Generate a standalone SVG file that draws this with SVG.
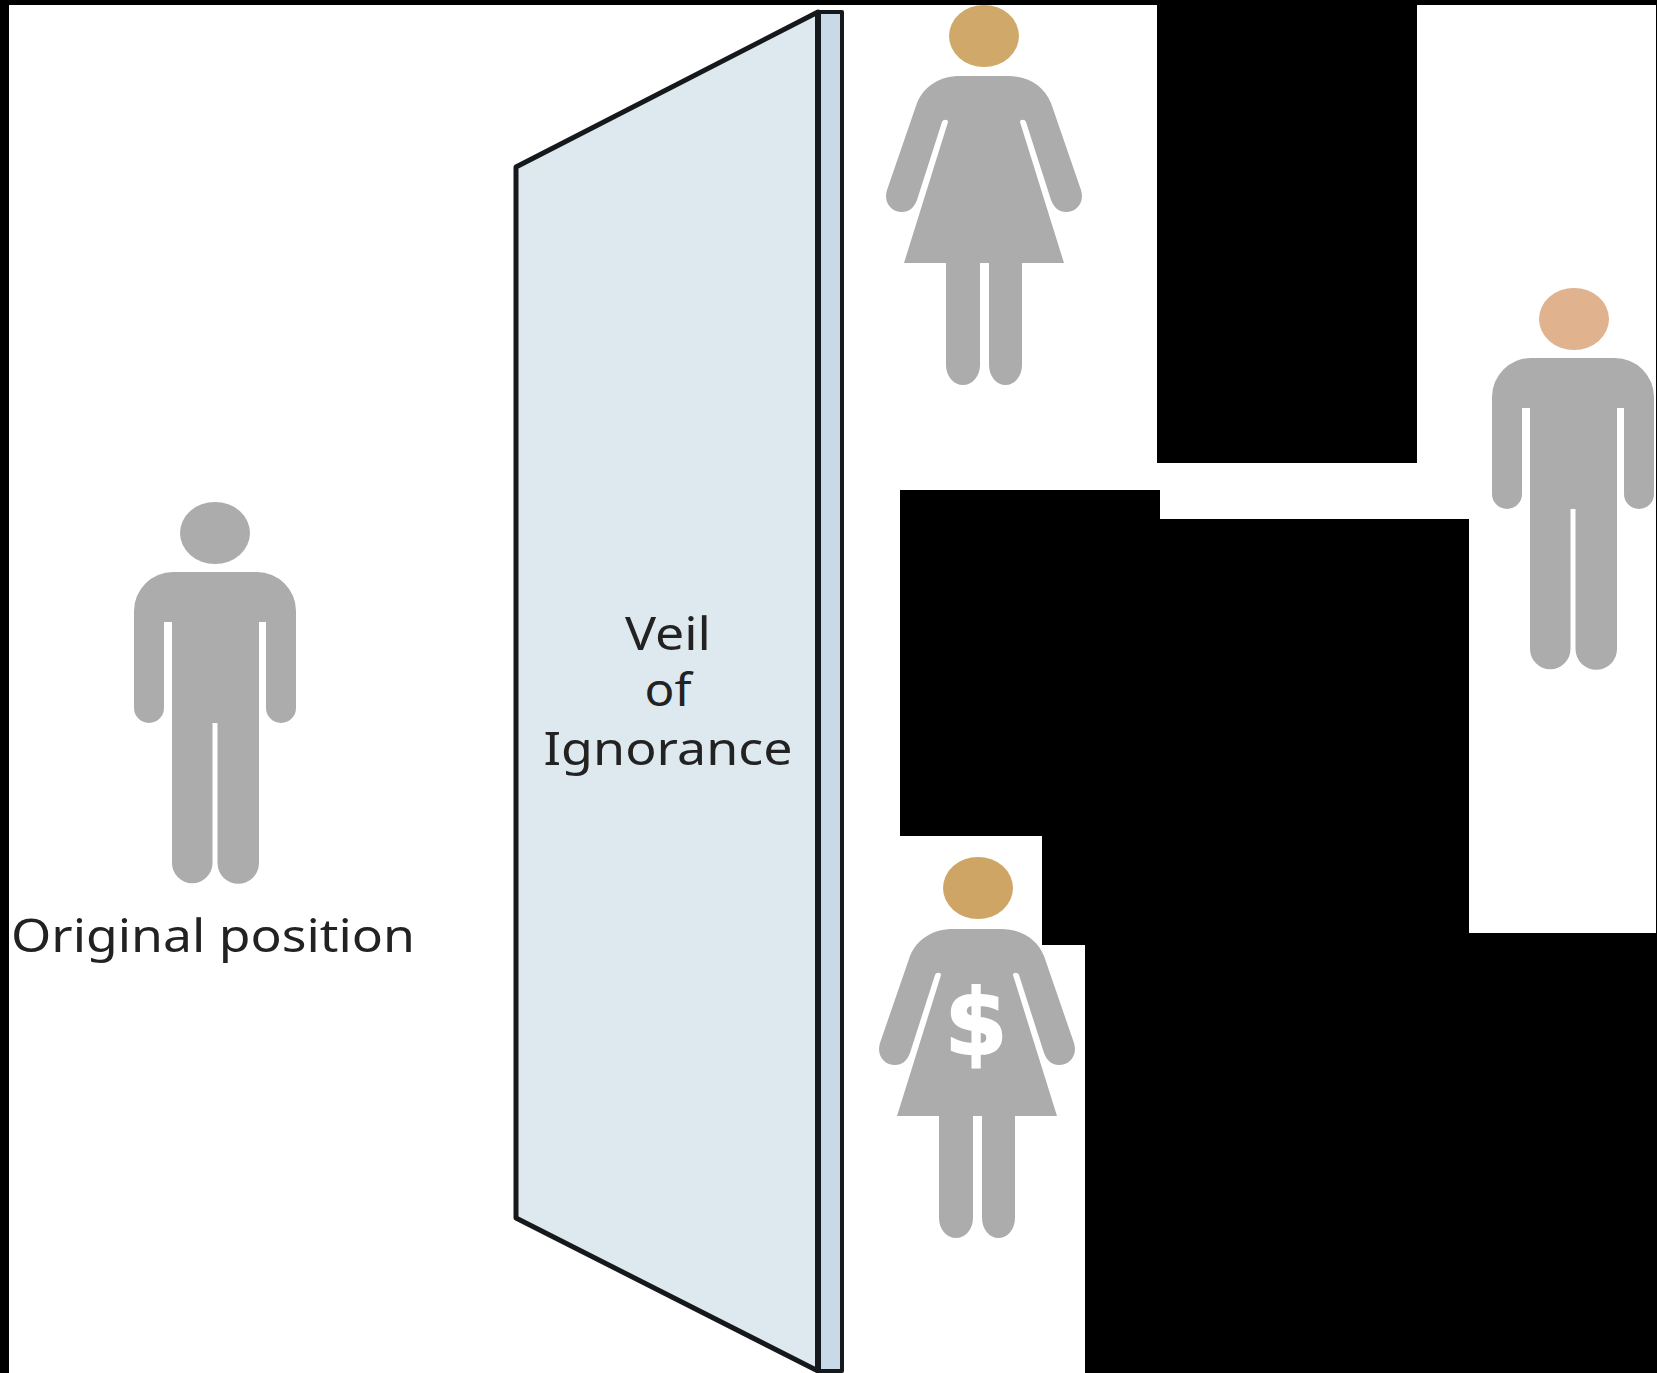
<svg xmlns="http://www.w3.org/2000/svg" width="1657" height="1373" viewBox="0 0 1657 1373">
<style>
.fig{fill:#acacac}
.lbl{font-family:"Noto Sans","DejaVu Sans",sans-serif;font-size:46px;fill:#222}
.edge{stroke:#16191c;fill:none;stroke-linejoin:round}
.mask{fill:#000}
</style>
<defs>
<path id="man" d="M172 572H257A39 39 0 0 1 296 611V708A15 15 0 0 1 266 708V622H259V863A20.750 20.750 0 0 1 217.500 863V723H212.500V863A20.250 20.250 0 0 1 172 863V622H164V708A15 15 0 0 1 134 708V611A39 39 0 0 1 173 572Z"/>
<path id="woman" d="M960 76H1008C1028 76 1044 86 1051 103L1081 190C1085 203 1076 212 1066 212C1059 212 1054 208 1051 200L1026 122C1025 119 1020 119 1020 122L1064 263H1022V365A16.500 20 0 0 1 989 365V263H980V365A17 20 0 0 1 946 365V263H904L948 122C948 119 943 119 942 122L917 200C914 208 909 212 902 212C892 212 883 203 887 190L917 103C924 86 940 76 960 76Z"/>
</defs>
<rect width="1657" height="1373" fill="#fff"/>
<g id="veil">
<polygon points="516,167 817,12 817,1371 516,1218" fill="#dee8ef"/>
<rect x="818" y="12" width="24" height="1360" fill="#c8dae8"/>
<polygon class="edge" stroke-width="5" points="516,167 818,12 818,1371 516,1218"/>
<rect class="edge" x="819" y="12" width="23" height="1359" stroke-width="4"/>
<line class="edge" x1="818" y1="12" x2="818" y2="1371" stroke-width="6"/>
<text class="lbl" x="668" y="650" text-anchor="middle" textLength="86" lengthAdjust="spacingAndGlyphs">Veil</text>
<text class="lbl" x="668" y="706" text-anchor="middle" textLength="47" lengthAdjust="spacingAndGlyphs">of</text>
<text class="lbl" x="668" y="765" text-anchor="middle" textLength="249" lengthAdjust="spacingAndGlyphs">Ignorance</text>
</g>
<g id="original-position">
<ellipse cx="215" cy="533" rx="35" ry="31" class="fig"/>
<use href="#man" class="fig"/>
<text class="lbl" x="11" y="952" textLength="404" lengthAdjust="spacingAndGlyphs">Original position</text>
</g>
<g id="woman-top">
<ellipse cx="984" cy="36" rx="35" ry="31" fill="#d0a869"/>
<use href="#woman" class="fig"/>
</g>
<g id="man-right">
<ellipse cx="1574" cy="319" rx="35" ry="31" fill="#e0b28e"/>
<use href="#man" class="fig" transform="translate(1358 -214)"/>
</g>
<g id="woman-rich">
<ellipse cx="978" cy="888" rx="35" ry="31" fill="#cfa566"/>
<use href="#woman" class="fig" transform="translate(-7 853)"/>
<text x="976" y="1054" text-anchor="middle" font-family="'DejaVu Sans',sans-serif" font-weight="700" font-size="90" fill="#fff" stroke="#fff" stroke-width="2">$</text>
</g>
<g id="masks">
<rect class="mask" width="1657" height="5"/>
<rect class="mask" width="9" height="1373"/>
<rect class="mask" x="1656" width="1" height="1373"/>
<rect class="mask" x="1157" width="260" height="463"/>
<rect class="mask" x="900" y="490" width="260" height="346"/>
<rect class="mask" x="1160" y="519" width="309" height="854"/>
<rect class="mask" x="1042" y="836" width="118" height="109"/>
<rect class="mask" x="1085" y="945" width="572" height="428"/>
<rect class="mask" x="1469" y="933" width="188" height="440"/>
</g>
</svg>
